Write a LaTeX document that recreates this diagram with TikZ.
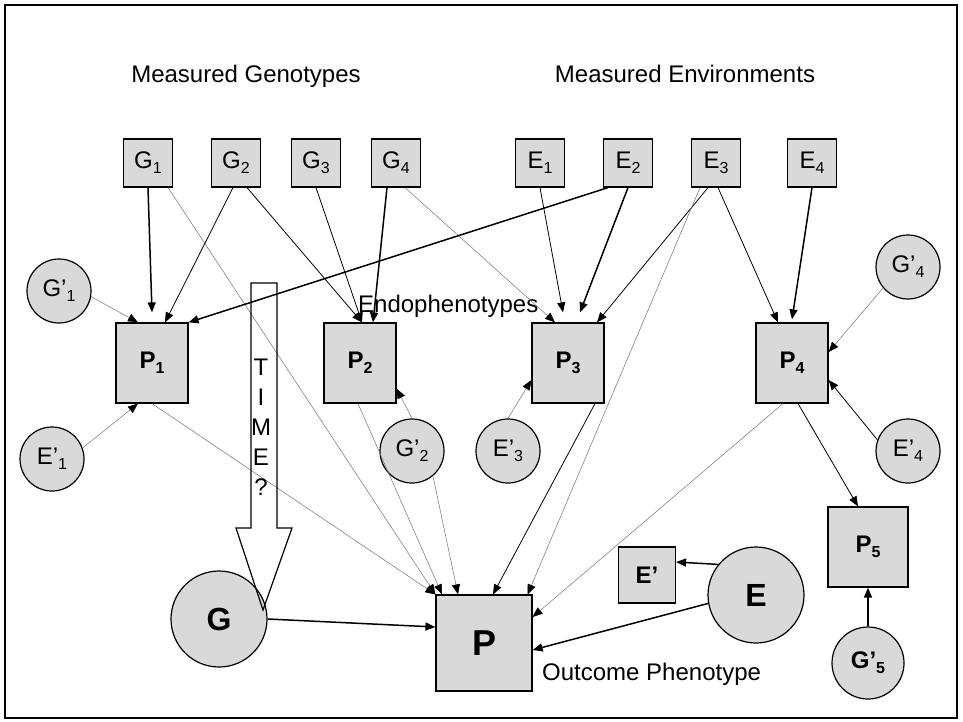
\documentclass[tikz,border=0pt]{standalone}
\usepackage{fontspec}
\setmainfont{Liberation Sans}
\usetikzlibrary{arrows.meta}
\definecolor{boxgray}{RGB}{217,217,217}
\newcommand\lsub[1]{\raisebox{-5pt}{\fontsize{16}{16}\selectfont#1}}

\begin{document}
\begin{tikzpicture}[x=1pt,y=-1pt,
	every node/.style={font=\fontsize{24}{29}\selectfont,inner sep=0pt},
	mbox/.style={draw,line width=1.2pt,fill=boxgray,minimum width=49pt,minimum height=48pt},
	pbox/.style={draw,line width=1.2pt,fill=boxgray,minimum width=72pt,minimum height=80pt,font=\fontsize{24}{29}\selectfont\bfseries},
	res/.style={circle,draw,line width=1.2pt,fill=boxgray,minimum size=64pt},
	big/.style={font=\fontsize{32}{38}\selectfont\bfseries},
	arr/.style={-{Triangle[length=10pt,width=8pt]},line width=0.8pt},
	heavy/.style={arr,line width=1.5pt},
	faint/.style={-{Triangle[length=10pt,width=8pt,color=black]},draw=black!55,line width=0.5pt}]
	\useasboundingbox (0,0) rectangle (963,722);
	\draw[line width=2pt] (5,5) rectangle (957,718);

	% labels
	\node[anchor=base] (mg) at (246,83) {Measured Genotypes};
	\node[anchor=base] (me) at (685,83) {Measured Environments};
	\node[anchor=base west] (endo) at (358,312) {Endophenotypes};
	\node[anchor=base west] (outc) at (542,680) {Outcome Phenotype};

	% measured genotypes and environments
	\node[mbox] (g1) at (148,163) {G\lsub{1}};
	\node[mbox] (g2) at (236,163) {G\lsub{2}};
	\node[mbox] (g3) at (316,163) {G\lsub{3}};
	\node[mbox] (g4) at (396,163) {G\lsub{4}};
	\node[mbox] (e1) at (540,163) {E\lsub{1}};
	\node[mbox] (e2) at (628,163) {E\lsub{2}};
	\node[mbox] (e3) at (716,163) {E\lsub{3}};
	\node[mbox] (e4) at (812,163) {E\lsub{4}};

	% endophenotypes
	\node[pbox] (p1) at (152,363) {P\lsub{1}};
	\node[pbox] (p2) at (360,363) {P\lsub{2}};
	\node[pbox] (p3) at (568,363) {P\lsub{3}};
	\node[pbox] (p4) at (792,363) {P\lsub{4}};
	\node[pbox,minimum width=80pt] (p5) at (868,547) {P\lsub{5}};
	\node[pbox,font=\fontsize{36}{42}\selectfont\bfseries,minimum width=96pt,minimum height=96pt] (pout) at (484,643) {P};
	\node[pbox,minimum width=57pt,minimum height=56pt] (ebox) at (647,575) {E’};

	% residual terms
	\node[res] (gp1) at (59,291) {G’\lsub{1}};
	\node[res] (ep1) at (52,459) {E’\lsub{1}};
	\node[res] (gp2) at (412,451) {G’\lsub{2}};
	\node[res] (ep3) at (508,451) {E’\lsub{3}};
	\node[res] (gp4) at (908,267) {G’\lsub{4}};
	\node[res] (ep4) at (908,451) {E’\lsub{4}};
	\node[res,minimum size=72pt,font=\fontsize{24}{29}\selectfont\bfseries] (gp5) at (868,663) {G’\lsub{5}};
	\node[res,big,minimum size=96pt] (gbig) at (219,619) {G};
	\node[res,big,minimum size=96pt] (ebig) at (756,595) {E};

	% paths
	\draw[heavy] (g1.south) -- ([yshift=10pt]p1.north);
	\draw[faint] ([xshift=-5pt]g1.south east) -- (pout.north west);
	\draw[arr] ([xshift=-3pt]g2.south) -- ([xshift=13pt]p1.north);
	\draw[arr] ([xshift=11pt]g2.south) -- ([xshift=2pt]p2.north);
	\draw[arr] (g3.south) -- ([xshift=2pt]p2.north);
	\draw[heavy] ([xshift=-9pt]g4.south) -- ([xshift=13pt]p2.north);
	\draw[faint] ([xshift=9pt]g4.south) -- ([xshift=-13pt]p3.north);
	\draw[heavy] ([xshift=-20pt]e2.south) -- (p1.north east);
	\draw[arr] (e1.south) -- ([xshift=-5pt,yshift=10pt]p3.north);
	\draw[heavy] (e2.south) -- ([xshift=12pt,yshift=10pt]p3.north);
	\draw[arr] ([xshift=-8pt]e3.south) -- ([xshift=29pt]p3.north);
	\draw[faint] ([xshift=-16pt]e3.south) -- ([xshift=-5pt]pout.north east);
	\draw[arr] ([xshift=2pt]e3.south) -- ([xshift=-14pt]p4.north);
	\draw[heavy] (e4.south) -- ([yshift=3pt]p4.north);
	\draw[faint] (gp1.-10) -- ([xshift=-14pt]p1.north);
	\draw[faint] (ep1.20) -- ([xshift=-14pt]p1.south);
	\draw[faint] (gp2.north) -- ([yshift=15pt]p2.south east);
	\draw[faint] (gp2.-50) -- ([xshift=-26pt]pout.north);
	\draw[faint] (p1.south) -- (pout.north west);
	\draw[faint] ([xshift=-2pt]p2.south) -- ([xshift=-42pt]pout.north);
	\draw[arr] ([xshift=27pt]p3.south) -- ([xshift=9pt]pout.north);
	\draw[faint] (ep3.north) -- ([yshift=-17pt]p3.west);
	\draw[faint] ([xshift=-9pt]p4.south) -- ([yshift=26pt]pout.east);
	\draw[arr] ([xshift=6pt]p4.south) -- ([xshift=-10pt]p5.north);
	\draw[faint] (gp4.220) -- ([yshift=11pt]p4.east);
	\draw[arr] (ep4.160) -- ([yshift=-17pt]p4.east);
	\draw[heavy] (gp5.north) -- (p5.south);
	\draw[heavy] (ebig.141) -- ([yshift=13pt]ebox.east);
	\draw[heavy] (ebig.190) -- ([yshift=-7pt]pout.east);
	\draw[heavy] (gbig.east) -- ([yshift=16pt]pout.west);

	% time arrow
	\draw[line width=1.2pt] (251,283) -- (277,283) -- (277,528) -- (292,528) -- (263,610) -- (236,528) -- (251,528) -- cycle;
	\foreach \ch [count=\i] in {T,I,M,E,?}
		\node[anchor=base] (t\i) at (261,345.6+30*\i) {\ch};
\end{tikzpicture}
\end{document}
